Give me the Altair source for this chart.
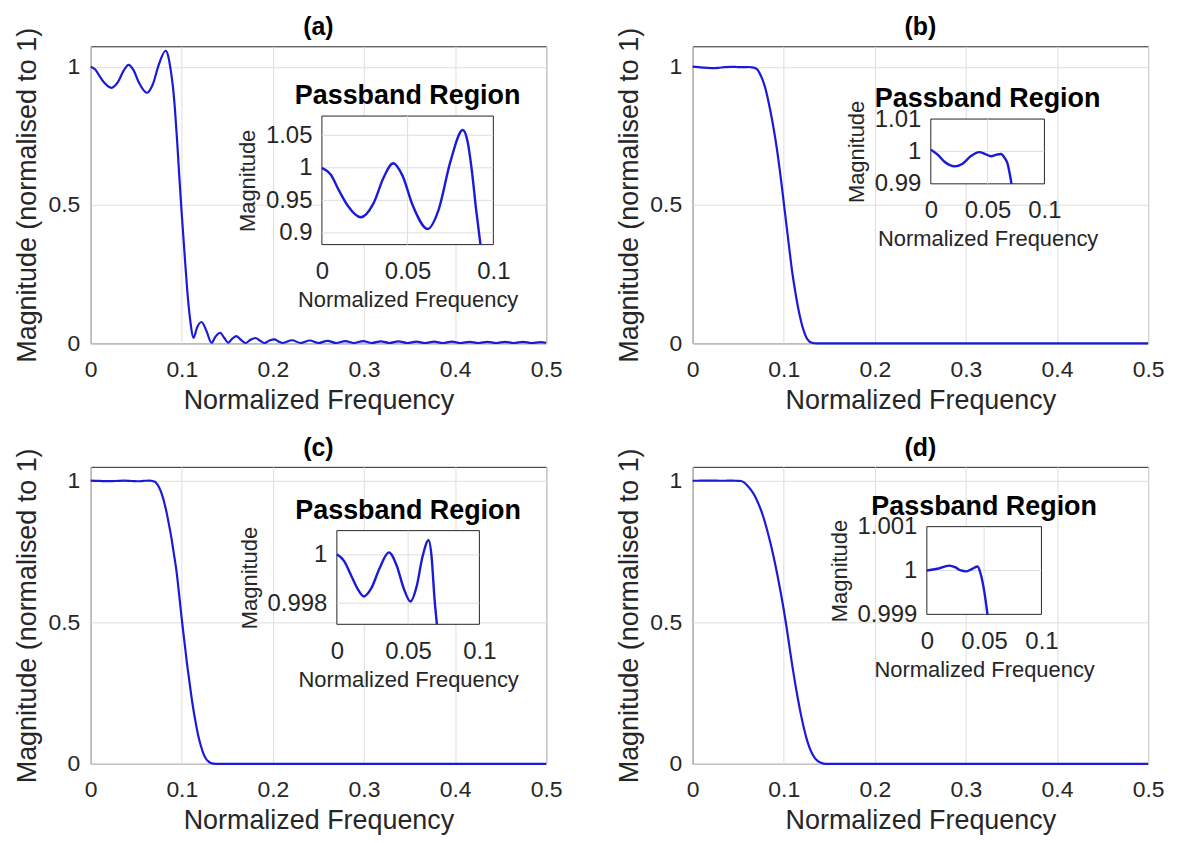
import altair as alt
import pandas as pd

# ---------------- data ----------------
MAIN_X_TICKS = [0, 0.1, 0.2, 0.3, 0.4, 0.5]
MAIN_Y_TICKS = [0, 0.5, 1]
INSET_X_TICKS = [0, 0.05, 0.1]

# (a)
a_freq = [0.000, 0.005, 0.010, 0.015, 0.0226, 0.030, 0.036, 0.0416, 0.047, 0.053,
          0.0617, 0.068, 0.075, 0.0822, 0.0850, 0.0875, 0.0900, 0.0925, 0.0950, 0.0975,
          0.1000, 0.1030, 0.1060, 0.1090, 0.1130, 0.1165, 0.1217, 0.1270, 0.1326, 0.1370,
          0.1420, 0.1465, 0.1510, 0.1555, 0.1600, 0.1650, 0.1700, 0.1755, 0.1810, 0.1860,
          0.1910, 0.1963, 0.2016, 0.2065, 0.2110, 0.2210, 0.2305, 0.2405, 0.2500, 0.2600,
          0.2695, 0.2795, 0.2890, 0.2990, 0.3085, 0.3185, 0.3280, 0.3380, 0.3475, 0.3575,
          0.3670, 0.3770, 0.3865, 0.3965, 0.4060, 0.4160, 0.4255, 0.4355, 0.4450, 0.4550,
          0.4645, 0.4745, 0.4840, 0.4940, 0.5000]
a_mag = [1.000, 0.990, 0.965, 0.942, 0.924, 0.945, 0.985, 1.007, 0.988, 0.942,
         0.906, 0.935, 1.010, 1.058, 1.040, 0.995, 0.935, 0.845, 0.725, 0.590,
         0.465, 0.325, 0.190, 0.090, 0.020, 0.055, 0.077, 0.045, 0.002, 0.024,
         0.038, 0.020, 0.002, 0.017, 0.026, 0.012, 0.001, 0.013, 0.019, 0.009,
         0.001, 0.010, 0.014, 0.006, 0.001, 0.011, 0.001, 0.010, 0.001, 0.009,
         0.001, 0.008, 0.001, 0.008, 0.001, 0.007, 0.001, 0.007, 0.001, 0.006,
         0.001, 0.006, 0.001, 0.006, 0.001, 0.005, 0.001, 0.005, 0.001, 0.005,
         0.001, 0.005, 0.001, 0.004, 0.002]

# (b)
b_freq = [0.000, 0.006, 0.012, 0.021, 0.028, 0.035, 0.0427, 0.048, 0.053, 0.058,
          0.0616, 0.065, 0.0674, 0.071, 0.0735, 0.0765, 0.080, 0.084, 0.0875, 0.091,
          0.094, 0.097, 0.100, 0.103, 0.106, 0.109, 0.1125, 0.116, 0.119, 0.122,
          0.125, 0.128, 0.131, 0.136, 0.150, 0.200, 0.300, 0.400, 0.500]
b_mag = [1.0005, 0.9990, 0.9968, 0.9954, 0.9962, 0.9985, 0.9998, 0.9992, 0.9985, 0.9990,
         0.9992, 0.9980, 0.9964, 0.9900, 0.977, 0.955, 0.920, 0.862, 0.803, 0.735,
         0.668, 0.592, 0.510, 0.427, 0.345, 0.265, 0.190, 0.125, 0.080, 0.045,
         0.020, 0.007, 0.002, 0.000, 0.000, 0.000, 0.000, 0.000, 0.000]

# (c)
c_freq = [0.000, 0.005, 0.010, 0.015, 0.019, 0.024, 0.030, 0.0365, 0.042, 0.047,
          0.0516, 0.056, 0.060, 0.0644, 0.0665, 0.0685, 0.0702, 0.0725, 0.075, 0.0775,
          0.080, 0.0827, 0.0855, 0.0885, 0.091, 0.094, 0.097, 0.100, 0.103, 0.106,
          0.109, 0.112, 0.115, 0.118, 0.121, 0.1236, 0.1265, 0.1295, 0.132, 0.137,
          0.150, 0.200, 0.300, 0.400, 0.500]
c_mag = [1.00002, 0.99975, 0.99915, 0.99855, 0.99828, 0.99860, 0.99945, 1.00010, 0.99955, 0.99860,
         0.99807, 0.99870, 0.99990, 1.00060, 0.99990, 0.99820, 0.99700, 0.990, 0.977, 0.958,
         0.932, 0.897, 0.852, 0.800, 0.748, 0.685, 0.600, 0.510, 0.428, 0.347,
         0.275, 0.207, 0.150, 0.100, 0.063, 0.037, 0.018, 0.008, 0.003, 0.000,
         0.000, 0.000, 0.000, 0.000, 0.000]

# (d)
d_freq = [0.000, 0.0093, 0.0195, 0.025, 0.0297, 0.034, 0.0384, 0.0442, 0.047, 0.050,
          0.0529, 0.056, 0.060, 0.065, 0.069, 0.073, 0.077, 0.081, 0.085, 0.089,
          0.093, 0.097, 0.100, 0.103, 0.106, 0.109, 0.1125, 0.116, 0.119, 0.122,
          0.125, 0.128, 0.131, 0.134, 0.1375, 0.141, 0.146, 0.200, 0.300, 0.400,
          0.500]
d_mag = [1.00000, 1.00004, 1.00011, 1.00007, 1.00000, 0.99998, 1.00002, 1.00009, 0.99992, 0.99954,
         0.99900, 0.995, 0.983, 0.963, 0.942, 0.913, 0.878, 0.835, 0.785, 0.730,
         0.668, 0.600, 0.545, 0.485, 0.420, 0.355, 0.285, 0.222, 0.172, 0.128,
         0.090, 0.060, 0.037, 0.021, 0.010, 0.004, 0.000, 0.000, 0.000, 0.000,
         0.000]

# inset axis limits / ticks
a_inset_ydom = [0.882, 1.0795]
a_inset_yticks = [0.9, 0.95, 1, 1.05]
b_inset_ydom = [0.99, 1.01]
b_inset_yticks = [0.99, 1, 1.01]
c_inset_ydom = [0.99713, 1.001]
c_inset_yticks = [0.998, 1]
d_inset_ydom = [0.999, 1.001]
d_inset_yticks = [0.999, 1, 1.001]

# last frequency shown in each inset (where the curve leaves the inset box)
a_cut, b_cut, c_cut, d_cut = 0.0925, 0.071, 0.0702, 0.0529

# main y-axis upper limits
a_ytop, b_ytop, c_ytop, d_ytop = 1.074, 1.074, 1.049, 1.049

# ---------------- layout / style ----------------
FONT = "Liberation Sans"
TXT = "#262626"
BLUE = "#1a1ad8"
GRID = "#dedede"
W, H = 457, 298
# inset boxes in pixels within each panel's plot area: (left, right, top, bottom)
BOX = {
    "a": (232, 404, 70, 199),
    "b": (239, 353, 73, 138),
    "c": (247, 390, 64, 158),
    "d": (235, 350, 60, 148),
}


def panel(label, key, freq, mag, ytop, cut, ydom, yticks):
    df = pd.DataFrame({"f": freq, "m": mag})
    main = alt.Chart(df).mark_line(color=BLUE, strokeWidth=2.2, interpolate="monotone").encode(
        x=alt.X("f:Q", scale=alt.Scale(domain=[MAIN_X_TICKS[0], MAIN_X_TICKS[-1]], nice=False, zero=False),
                axis=alt.Axis(values=MAIN_X_TICKS, format="~g", title="Normalized Frequency",
                              grid=True, gridColor=GRID, labelFlush=False, labelOverlap=False,
                              ticks=False, domain=False, labelPadding=15, titlePadding=6,
                              labelFontSize=23, titleFontSize=27)),
        y=alt.Y("m:Q", scale=alt.Scale(domain=[0, ytop], nice=False, zero=False),
                axis=alt.Axis(values=MAIN_Y_TICKS, format="~g", title="Magnitude (normalised to 1)",
                              grid=True, gridColor=GRID, labelOverlap=False, ticks=False, domain=False,
                              labelPadding=11, titlePadding=6, labelFontSize=23, titleFontSize=27)),
    )

    x0, x1, y0, y1 = BOX[key]
    xdom = [INSET_X_TICKS[0], INSET_X_TICKS[-1]]
    xs = alt.Scale(domain=xdom, range=[x0, x1], nice=False, zero=False)
    ys = alt.Scale(domain=ydom, range=[y1, y0], nice=False, zero=False, clamp=True)

    frame = pd.DataFrame({"fa": [xdom[0]], "fb": [xdom[1]], "ma": [ydom[0]], "mb": [ydom[1]]})
    rect = alt.Chart(frame).mark_rect(fill="white", stroke=TXT, strokeWidth=1).encode(
        x=alt.X("fa:Q", scale=xs, axis=None), x2="fb:Q",
        y=alt.Y("ma:Q", scale=ys, axis=None), y2="mb:Q")

    gx = pd.DataFrame({"f": [v for v in INSET_X_TICKS if xdom[0] < v < xdom[1]]})
    gx["lo"], gx["hi"] = ydom[0], ydom[1]
    gxr = alt.Chart(gx).mark_rule(color=GRID, strokeWidth=1).encode(
        x=alt.X("f:Q", scale=xs, axis=None),
        y=alt.Y("lo:Q", scale=ys, axis=None), y2="hi:Q")

    gy = pd.DataFrame({"m": [v for v in yticks if ydom[0] < v < ydom[1]]})
    gy["lo"], gy["hi"] = xdom[0], xdom[1]
    gyr = alt.Chart(gy).mark_rule(color=GRID, strokeWidth=1).encode(
        y=alt.Y("m:Q", scale=ys, axis=None),
        x=alt.X("lo:Q", scale=xs, axis=None), x2="hi:Q")

    idf = df[df["f"] <= cut].reset_index(drop=True)
    iline = alt.Chart(idf).mark_line(color=BLUE, strokeWidth=2.4, interpolate="monotone").encode(
        x=alt.X("f:Q", scale=xs,
                axis=alt.Axis(orient="bottom", offset=y1 - H, values=INSET_X_TICKS, format="~g",
                              title="Normalized Frequency", grid=False, labelFlush=False,
                              labelOverlap=False, ticks=False, domain=False, labelPadding=15,
                              titlePadding=6, labelFontSize=24, titleFontSize=22)),
        y=alt.Y("m:Q", scale=ys,
                axis=alt.Axis(orient="left", offset=-x0, values=yticks, format="~g",
                              title="Magnitude", grid=False, labelOverlap=False, ticks=False,
                              domain=False, labelPadding=10, titlePadding=6,
                              labelFontSize=24, titleFontSize=22)),
    )

    tdf = pd.DataFrame({"f": [(xdom[0] + xdom[1]) / 2], "m": [ydom[1]], "t": ["Passband Region"]})
    txt = alt.Chart(tdf).mark_text(font=FONT, fontSize=27, fontWeight="bold", color="black",
                                   baseline="alphabetic", align="center", dy=-12).encode(
        x=alt.X("f:Q", scale=xs, axis=None),
        y=alt.Y("m:Q", scale=ys, axis=None),
        text="t:N")

    return alt.layer(main, rect, gxr, gyr, iline, txt).resolve_scale(
        x="independent", y="independent"
    ).properties(
        width=W, height=H,
        title=alt.TitleParams(text=label, fontSize=25, fontWeight="bold", color="black",
                              font=FONT, offset=-13, anchor="middle", frame="group"),
    )


pa = panel("(a)", "a", a_freq, a_mag, a_ytop, a_cut, a_inset_ydom, a_inset_yticks)
pb = panel("(b)", "b", b_freq, b_mag, b_ytop, b_cut, b_inset_ydom, b_inset_yticks)
pc = panel("(c)", "c", c_freq, c_mag, c_ytop, c_cut, c_inset_ydom, c_inset_yticks)
pd_ = panel("(d)", "d", d_freq, d_mag, d_ytop, d_cut, d_inset_ydom, d_inset_yticks)

chart = alt.concat(pa, pb, pc, pd_, columns=2, spacing={"row": 124, "column": 147},
                   bounds="flush").properties(
    padding={"left": 5, "top": 5, "right": 5, "bottom": 5}
).configure(font=FONT).configure_view(
    stroke=TXT, strokeWidth=1
).configure_axis(
    labelColor=TXT, titleColor=TXT, labelFont=FONT, titleFont=FONT, titleFontWeight="normal"
)

chart.save("out.html", embed_options={"renderer": "svg", "actions": False})
